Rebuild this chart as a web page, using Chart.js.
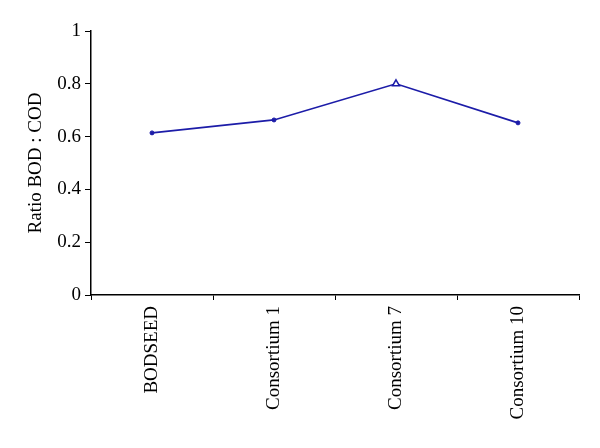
<!DOCTYPE html>
<html>
<head>
<meta charset="utf-8">
<script src="https://cdn.jsdelivr.net/npm/chart.js@4/dist/chart.umd.min.js"></script>
<style>
  html, body { margin: 0; padding: 0; background: #fff; }
  #wrap { width: 600px; height: 448px; }
</style>
</head>
<body>
<div id="wrap"><canvas id="ratioChart"></canvas></div>
<script>
const categories = ['BODSEED', 'Consortium 1', 'Consortium 7', 'Consortium 10'];
const ratioValues = [0.614, 0.663, 0.80, 0.652];
const yTicks = [0, 0.2, 0.4, 0.6, 0.8, 1];

const lineColor = '#1c1ca8';
const serif = "'Liberation Serif', 'DejaVu Serif', serif";

new Chart(document.getElementById('ratioChart'), {
  type: 'line',
  data: {
    labels: categories,
    datasets: [{
      data: ratioValues,
      borderColor: lineColor,
      borderWidth: 1.7,
      backgroundColor: ['#1c1ca8', '#1c1ca8', '#ffffff', '#1c1ca8'],
      pointBorderColor: lineColor,
      pointStyle: ['circle', 'circle', 'triangle', 'circle'],
      pointRadius: [2, 2, 4, 2],
      pointBorderWidth: [1, 1, 1.5, 1],
      tension: 0
    }]
  },
  options: {
    responsive: true,
    maintainAspectRatio: false,
    animation: false,
    layout: { padding: { top: 31, right: 21, left: 25, bottom: 0 } },
    plugins: { legend: { display: false }, tooltip: { enabled: false } },
    scales: {
      x: {
        offset: true,
        grid: { offset: true, drawOnChartArea: false, color: '#000', tickLength: 5 },
        border: { color: '#000', width: 1.5 },
        ticks: {
          color: '#000',
          minRotation: 90,
          maxRotation: 90,
          padding: 6,
          font: { family: serif, size: 19 }
        },
        afterFit: function (axis) { axis.height = 153; }
      },
      y: {
        min: 0,
        max: 1,
        afterBuildTicks: function (axis) {
          axis.ticks = yTicks.map(v => ({ value: v }));
        },
        grid: { drawOnChartArea: false, color: '#000', tickLength: 6 },
        border: { color: '#000', width: 1.5 },
        ticks: {
          color: '#000',
          padding: 4,
          font: { family: serif, size: 19 },
          callback: function (value) { return String(Math.round(value * 10) / 10); }
        },
        title: {
          display: true,
          text: 'Ratio BOD : COD',
          color: '#000',
          font: { family: serif, size: 19 },
          padding: { top: 0, bottom: 8 }
        },
        afterFit: function (axis) { axis.width = 66; }
      }
    }
  }
});
</script>
</body>
</html>
